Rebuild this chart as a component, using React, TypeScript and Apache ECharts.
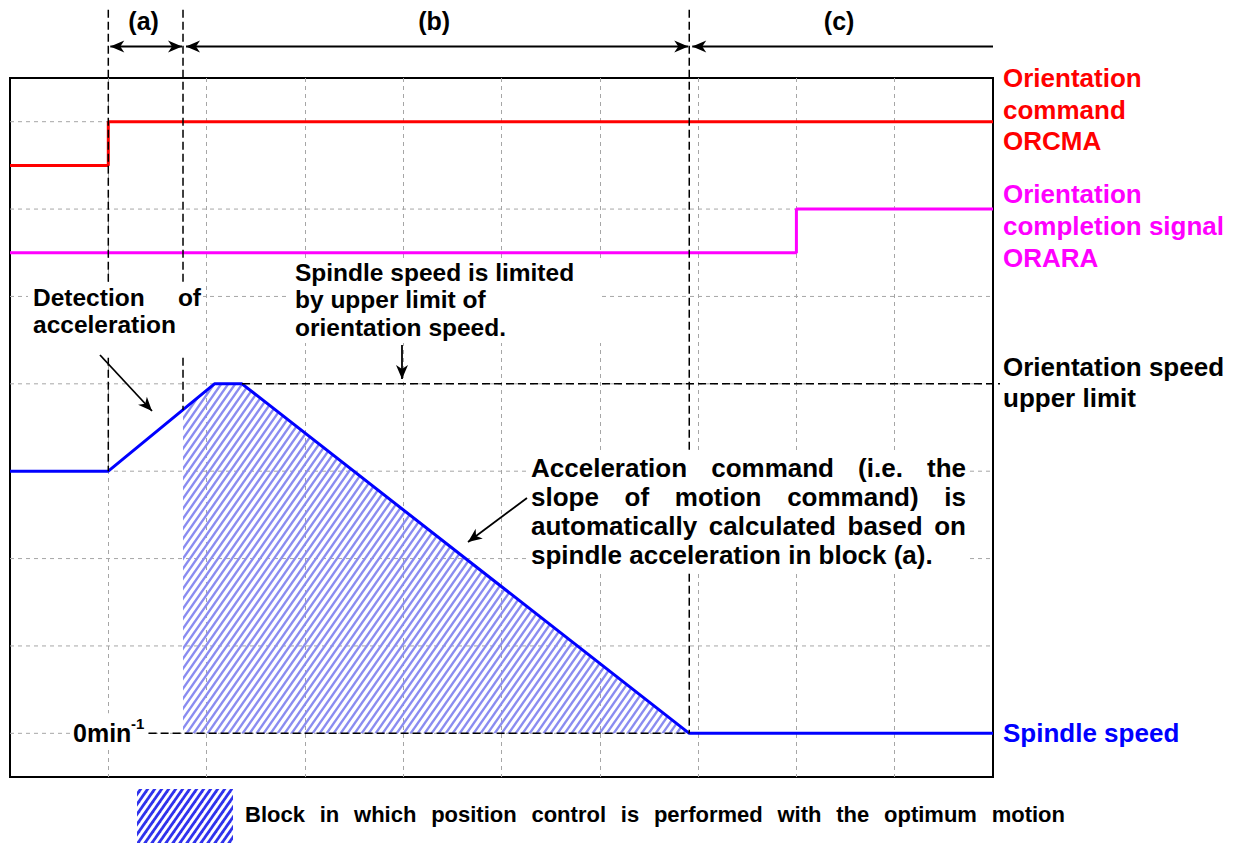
import React, { useEffect, useRef } from "react";
import * as echarts from "echarts";

// ---------- data (axis units: x = time cells, y = signal rows) ----------
const xRange = [0, 10];
const yRange = [0, 8];
const xGridInterval = 1;
const gridRows = [0.5, 1.5, 2.5, 3.5, 4.5, 5.5, 6.5, 7.5];

const orcmaX = [0, 1, 1, 10];
const orcmaY = [7, 7, 7.5, 7.5];

const oraraX = [0, 8, 8, 10];
const oraraY = [6, 6, 6.5, 6.5];

const speedX = [0, 1, 2.08, 2.36, 6.91, 10];
const speedY = [3.5, 3.5, 4.5, 4.5, 0.5, 0.5];

const blockX = [1.76, 2.08, 2.36, 6.91];
const blockY = [4.2, 4.5, 4.5, 0.5];

// block borders: (a) start, (b) start, (c) start, end
const blockBounds = [1, 1.76, 6.91, 10];
const blockLabels = ["(a)", "(b)", "(c)"];
const speedLimit = 4.5;
const zeroSpeed = 0.5;
const arrowRow = 8.36;
const dividerTop = 8.78;
const zeroLabelEnd = 1.41;

const orcmaLabel = ["Orientation", "command", "ORCMA"];
const oraraLabel = ["Orientation", "completion signal", "ORARA"];
const limitLabel = ["Orientation speed", "upper limit"];
const detectLines = ["Detection of", "acceleration"];
const limitNote = ["Spindle speed is limited", "by upper limit of", "orientation speed."];
const accelNote = [
  "Acceleration command (i.e. the",
  "slope of motion command) is",
  "automatically calculated based on",
  "spindle acceleration in block (a).",
];
const legendText = "Block in which position control is performed with the optimum motion";

const W = 1248;
const H = 845;
const FONT = "Liberation Sans, Arial, sans-serif";

const zip = (xs: number[], ys: number[]) => xs.map((x, i) => [x, ys[i]]);

function makeHatch(color: string, lw: number, w = 7, h = 10) {
  const c = document.createElement("canvas");
  c.width = w;
  c.height = h;
  const g = c.getContext("2d")!;
  g.clearRect(0, 0, w, h);
  g.strokeStyle = color;
  g.lineWidth = lw;
  for (const off of [-w, 0, w]) {
    g.beginPath();
    g.moveTo(off - w * 0.3, h + h * 0.3);
    g.lineTo(off + w * 1.3, -h * 0.3);
    g.stroke();
  }
  return c;
}

const measureCtx = document.createElement("canvas").getContext("2d")!;
function textW(s: string, size: number) {
  measureCtx.font = `bold ${size}px "Liberation Sans"`;
  return measureCtx.measureText(s).width;
}

function txt(s: string, x: number, y: number, size: number, color: string, align = "left") {
  return {
    type: "text",
    z: 20,
    silent: true,
    style: {
      text: s,
      x,
      y,
      fill: color,
      fontSize: size,
      fontWeight: "bold",
      fontFamily: FONT,
      textAlign: align,
      align,
      textVerticalAlign: "middle",
      verticalAlign: "middle",
    },
  };
}

// one text element per block; justified lines built from fixed-width rich tokens
function block(
  lines: string[],
  justifyFlags: boolean[],
  x0: number,
  x1: number,
  yFirst: number,
  lineH: number,
  size: number,
  color: string
) {
  const rich: Record<string, any> = {};
  let k = 0;
  const base = { fontSize: size, fontWeight: "bold", fontFamily: FONT, fill: color, color, lineHeight: lineH };
  const parts = lines.map((line, li) => {
    if (!justifyFlags[li]) {
      const key = "t" + k++;
      rich[key] = { ...base };
      return `{${key}|${line}}`;
    }
    const words = line.split(" ");
    const ws = words.map((w) => textW(w, size));
    const total = ws.reduce((a, b) => a + b, 0);
    const gap = words.length > 1 ? (x1 - x0 - total) / (words.length - 1) : 0;
    return words
      .map((w, i) => {
        const key = "t" + k++;
        rich[key] = { ...base, width: i < words.length - 1 ? ws[i] + gap : ws[i] };
        return `{${key}|${w}}`;
      })
      .join("");
  });
  return {
    type: "text",
    z: 20,
    silent: true,
    style: {
      text: parts.join("\n"),
      x: x0,
      y: yFirst - lineH / 2,
      fill: color,
      fontSize: size,
      fontWeight: "bold",
      fontFamily: FONT,
      lineHeight: lineH,
      textAlign: "left",
      align: "left",
      textVerticalAlign: "top",
      verticalAlign: "top",
      rich,
    },
  };
}

function whiteBox(x: number, y: number, w: number, h: number) {
  return { type: "rect", z: 15, silent: true, shape: { x, y, width: w, height: h }, style: { fill: "#ffffff" } };
}

function seg(a: number[], b: number[], style: any, z = 10) {
  return { type: "line", z, silent: true, shape: { x1: a[0], y1: a[1], x2: b[0], y2: b[1] }, style };
}

function arrowHead(tip: number[], from: number[], L = 14, hw = 6, notch = 4) {
  const dx = tip[0] - from[0];
  const dy = tip[1] - from[1];
  const len = Math.hypot(dx, dy);
  const ux = dx / len;
  const uy = dy / len;
  const px = -uy;
  const py = ux;
  const bx = tip[0] - ux * L;
  const by = tip[1] - uy * L;
  const nx = tip[0] - ux * (L - notch);
  const ny = tip[1] - uy * (L - notch);
  return {
    type: "polygon",
    z: 21,
    silent: true,
    shape: {
      points: [
        [tip[0], tip[1]],
        [bx + px * hw, by + py * hw],
        [nx, ny],
        [bx - px * hw, by - py * hw],
      ],
    },
    style: { fill: "#000000" },
  };
}

function arrow(from: number[], to: number[], heads: "start" | "end" | "both", lw = 2) {
  const out: any[] = [seg(from, to, { stroke: "#000", lineWidth: lw }, 21)];
  if (heads === "end" || heads === "both") out.push(arrowHead(to, from));
  if (heads === "start" || heads === "both") out.push(arrowHead(from, to));
  return out;
}

export default function App() {
  const ref = useRef<HTMLDivElement>(null);

  useEffect(() => {
    document.body.style.margin = "0";
    const chart = echarts.init(ref.current!, null, { renderer: "svg", width: W, height: H });

    const areaPattern = { image: makeHatch("#8a8cf0", 2.4), repeat: "repeat" };
    const legendPattern = { image: makeHatch("#2f32ec", 2.8), repeat: "repeat" };

    chart.setOption({
      animation: false,
      backgroundColor: "#ffffff",
      grid: {
        left: 10,
        top: 78,
        right: 255,
        bottom: 68,
        show: true,
        borderColor: "#000000",
        borderWidth: 2,
        backgroundColor: "transparent",
      },
      xAxis: {
        type: "value",
        min: xRange[0],
        max: xRange[1],
        interval: xGridInterval,
        axisLine: { show: false },
        axisTick: { show: false },
        axisLabel: { show: false },
        splitLine: {
          show: true,
          showMinLine: false,
          showMaxLine: false,
          lineStyle: { color: "#a6a6a6", width: 1, type: [4, 4] },
        },
      },
      yAxis: {
        type: "value",
        min: yRange[0],
        max: yRange[1],
        axisLine: { show: false },
        axisTick: { show: false },
        axisLabel: { show: false },
        splitLine: { show: false },
      },
      series: [
        {
          type: "line",
          name: "block",
          data: zip(blockX, blockY),
          symbol: "none",
          silent: true,
          z: 2,
          lineStyle: { width: 0, opacity: 0 },
          areaStyle: { origin: zeroSpeed, color: areaPattern, opacity: 1 },
        },
        {
          type: "line",
          name: "ORCMA",
          data: zip(orcmaX, orcmaY),
          symbol: "none",
          z: 4,
          lineStyle: { color: "#ff0000", width: 3 },
        },
        {
          type: "line",
          name: "ORARA",
          data: zip(oraraX, oraraY),
          symbol: "none",
          z: 4,
          lineStyle: { color: "#ff00ff", width: 3 },
        },
        {
          type: "line",
          name: "Spindle speed",
          data: zip(speedX, speedY),
          symbol: "none",
          z: 4,
          lineStyle: { color: "#0000ff", width: 3 },
        },
      ],
    });

    const p = (x: number, y: number) => chart.convertToPixel({ gridIndex: 0 }, [x, y]) as number[];

    const els: any[] = [];
    const gray = { stroke: "#a6a6a6", lineWidth: 1, lineDash: [4, 4] };
    const dash = { stroke: "#000000", lineWidth: 1.5, lineDash: [8, 4] };

    // horizontal grid rows
    gridRows.forEach((r) => els.push(seg(p(xRange[0], r), p(xRange[1], r), gray, 1)));

    // vertical block dividers
    els.push(seg(p(blockBounds[0], dividerTop), p(blockBounds[0], speedY[1]), dash, 10));
    els.push(seg(p(blockBounds[1], dividerTop), p(blockBounds[1], blockY[0]), dash, 10));
    els.push(seg(p(blockBounds[2], dividerTop), p(blockBounds[2], zeroSpeed), dash, 10));

    // horizontal reference lines
    const limA = p(speedX[3], speedLimit);
    const limB = p(xRange[1], speedLimit);
    els.push(seg(limA, [limB[0] + 7, limB[1]], dash, 10));
    els.push(seg(p(zeroLabelEnd, zeroSpeed), p(blockBounds[2], zeroSpeed), dash, 10));

    // block arrows at top
    const ay = p(0, arrowRow)[1];
    const b0 = p(blockBounds[0], 0)[0];
    const b1 = p(blockBounds[1], 0)[0];
    const b2 = p(blockBounds[2], 0)[0];
    const b3 = p(blockBounds[3], 0)[0];
    els.push(...arrow([b0 + 2, ay], [b1 - 1, ay], "both"));
    els.push(...arrow([b1 + 3, ay], [b2 - 1, ay], "both"));
    els.push(...arrow([b2 + 3, ay], [b3, ay], "start"));
    const mids = [(b0 + b1) / 2 - 2, (b1 + b2) / 2 - 2, (b2 + b3) / 2 - 2];
    blockLabels.forEach((l, i) => els.push(txt(l, mids[i], 21, 25, "#000", "center")));

    // right side labels
    const rx = 1003;
    els.push(block(orcmaLabel, [false, false, false], rx, rx, 78, 31.5, 26, "#ff0000"));
    els.push(block(oraraLabel, [false, false, false], rx, rx, 194, 32, 26, "#ff00ff"));
    els.push(block(limitLabel, [false, false], rx, rx, 367, 31, 26, "#000000"));
    els.push(txt("Spindle speed", rx, p(0, zeroSpeed)[1], 26, "#0000ff"));

    // "Detection of acceleration"
    els.push(whiteBox(28, 284, 175, 70));
    els.push(block(detectLines, [true, false], 33, 201, 297, 27.5, 24.5, "#000"));
    els.push(...arrow([100, 355], [152, 411], "end", 1.8));

    // "Spindle speed is limited..."
    els.push(whiteBox(290, 258, 312, 85));
    els.push(block(limitNote, [false, false, false], 295, 600, 272, 27.5, 24.5, "#000"));
    els.push(...arrow([402, 345], [402, 379], "end", 1.8));

    // "Acceleration command ..."
    els.push(whiteBox(527, 453, 443, 117));
    els.push(block(accelNote, [true, true, true, false], 531, 966, 468, 29, 26, "#000"));
    els.push(...arrow([527, 498], [468, 542], "end", 1.8));

    // 0 min^-1 label
    const zy = p(0, zeroSpeed)[1];
    els.push(whiteBox(70, zy - 20, 78, 34));
    els.push(txt("0min", 73, zy, 25, "#000"));
    els.push(txt("-1", 131, zy - 10, 15, "#000"));

    // legend
    els.push({
      type: "rect",
      z: 15,
      silent: true,
      shape: { x: 137, y: 789, width: 96, height: 54 },
      style: { fill: legendPattern },
    });
    els.push(block([legendText], [true], 245, 1065, 814, 26, 22, "#000"));

    chart.setOption({ graphic: { elements: els } });

    return () => chart.dispose();
  }, []);

  return <div ref={ref} style={{ width: W, height: H }} />;
}
